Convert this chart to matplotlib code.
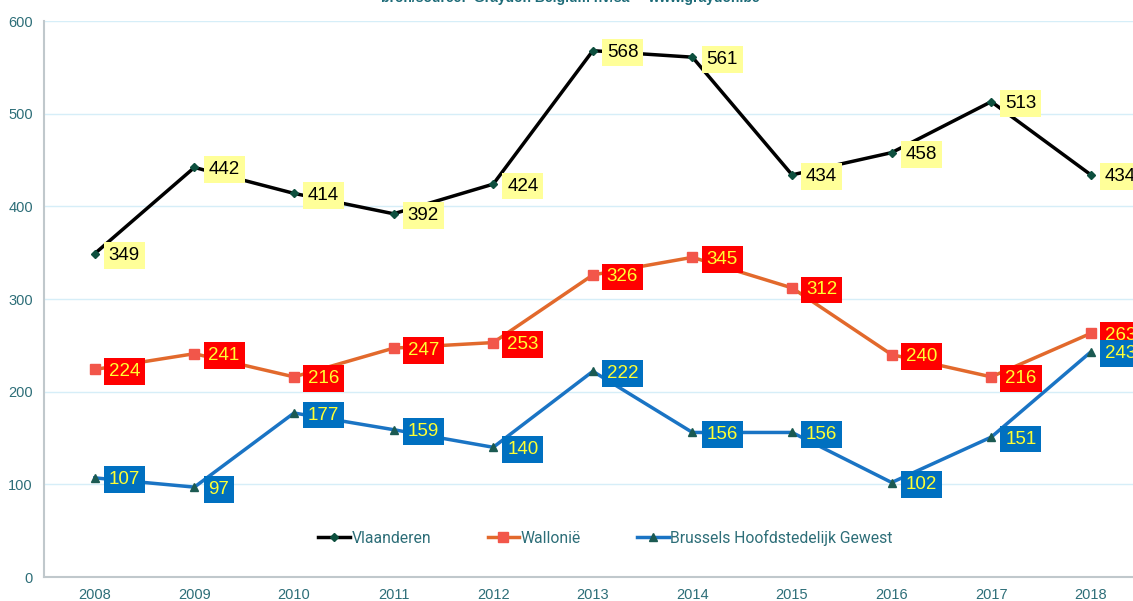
import matplotlib
matplotlib.use('Agg')
import matplotlib.pyplot as plt
from matplotlib.lines import Line2D

years = [2008, 2009, 2010, 2011, 2012, 2013, 2014, 2015, 2016, 2017, 2018]
vlaanderen = [349, 442, 414, 392, 424, 568, 561, 434, 458, 513, 434]
wallonie = [224, 241, 216, 247, 253, 326, 345, 312, 240, 216, 263]
brussel = [107, 97, 177, 159, 140, 222, 156, 156, 102, 151, 243]
names = ['Vlaanderen', 'Wallonië', 'Brussels Hoofdstedelijk Gewest']
source = 'bron/source:  Graydon Belgium nv/sa     www.graydon.be'

teal = '#2d6e78'

fig = plt.figure(figsize=(11.33, 6.01), dpi=100)
ax = fig.add_axes([0.0388, 0.0399, 0.968, 0.9251])

# series: values, line colour, marker, marker colour, marker size, box colour, text colour
series = [
    (vlaanderen, 'black', 'D', '#0d4f3e', 4.5, '#ffff99', 'black'),
    (wallonie, '#e2692c', 's', '#f2564a', 7, '#ff0000', '#ffff33'),
    (brussel, '#1a74c4', '^', '#1b5a52', 6, '#0070c0', '#ffff33'),
]

handles = []
for (vals, lc, mk, mc, ms, boxc, txtc), name in zip(series, names):
    ax.plot(years, vals, color=lc, lw=2.5, zorder=3)
    ax.plot(years, vals, ls='none', marker=mk, ms=ms, color=mc, zorder=4)
    for x, v in zip(years, vals):
        ax.annotate(str(v), (x, v), xytext=(14, -2), textcoords='offset pixels',
                    ha='left', va='center', fontsize=13.5, color=txtc,
                    family='Liberation Sans', zorder=5,
                    bbox=dict(boxstyle='square,pad=0.26', fc=boxc, ec='none'))
    handles.append(Line2D([], [], color=lc, lw=2.5, marker=mk, ms=ms,
                          markerfacecolor=mc, markeredgecolor=mc))

ax.set_xlim(2007.49, 2018.5)
ax.set_ylim(0, 600)
ax.set_yticks(range(0, 601, 100))
ax.set_xticks(years)
ax.grid(axis='y', color='#d6eef8', lw=1)
ax.set_axisbelow(True)
for s in ['top', 'right']:
    ax.spines[s].set_visible(False)
ax.spines['left'].set_color('#c0c8cc')
ax.spines['left'].set_linewidth(1.5)
ax.spines['bottom'].set_color('#c0c8cc')
ax.spines['bottom'].set_linewidth(1.5)
ax.tick_params(length=0, colors=teal, labelsize=10.5, pad=8)
for lab in ax.get_xticklabels() + ax.get_yticklabels():
    lab.set_family('Liberation Sans')

leg = ax.legend(handles, names, loc='center', bbox_to_anchor=(0.512, 0.071),
                ncol=3, frameon=False, handlelength=2.0,
                handletextpad=0.1, columnspacing=3.6,
                prop={'family': 'Roboto', 'size': 11.3})
for t in leg.get_texts():
    t.set_color(teal)

fig.text(0.503, 1.003, source, ha='center', va='center', fontsize=10,
         fontweight='bold', color='#1d6b78', family='Liberation Sans')

fig.savefig('out.png', dpi=100)
